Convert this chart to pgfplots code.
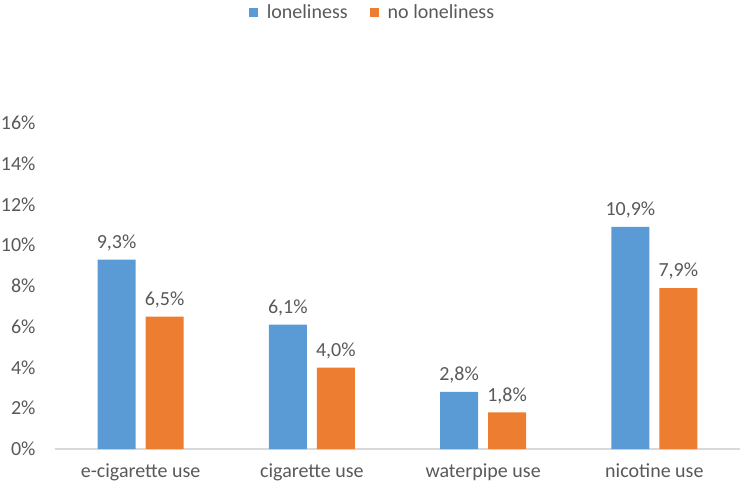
\documentclass[border=0pt]{standalone}
\usepackage{pgfplots}
\pgfplotsset{compat=1.18}
\usepackage{fontspec}
\setmainfont{Carlito}
\definecolor{cblue}{HTML}{5B9BD5}
\definecolor{corange}{HTML}{ED7D31}
\definecolor{ctext}{HTML}{595959}
\definecolor{caxis}{HTML}{D9D9D9}
\begin{document}
\begin{tikzpicture}
\useasboundingbox (0,0) rectangle (742pt,488pt);
\begin{axis}[
  at={(55pt,39pt)}, anchor=south west,
  scale only axis, width=685pt, height=326pt,
  ymin=0, ymax=16, xmin=-0.5, xmax=3.5,
  ybar=10pt, bar width=38pt,
  axis x line*=bottom, axis y line*=left,
  x axis line style={draw=caxis, line width=1.2pt, -},
  y axis line style={draw=none},
  major tick length=0pt,
  ytick={0,2,...,16},
  yticklabel={\pgfmathprintnumber{\tick}\%},
  xtick={0,1,2,3},
  xticklabels={e-cigarette use, cigarette use, waterpipe use, nicotine use},
  /pgf/number format/assume math mode=true,
  every tick label/.append style={font=\fontsize{20}{22}\selectfont, text=ctext},
  yticklabel style={xshift=-16pt},
  xticklabel style={yshift=-11pt},
  clip=false,
  nodes near coords={\pgfmathprintnumber[fixed,fixed zerofill,precision=1,use comma]{\pgfplotspointmeta}\%},
  every node near coord/.append style={font=\fontsize{20}{22}\selectfont, text=ctext, yshift=5pt},
  legend columns=2,
  legend style={at={(0.4635,1.340)}, anchor=center, draw=none, fill=none,
    font=\fontsize{20}{22}\selectfont, text=ctext,
    /tikz/every odd column/.append style={column sep=7pt},
    /tikz/every even column/.append style={column sep=20pt}},
  legend image code/.code={\fill (0pt,-4.5pt) rectangle (9pt,4.5pt);},
]
\addplot[fill=cblue, draw=none] coordinates {(0,9.3) (1,6.1) (2,2.8) (3,10.9)};
\addplot[fill=corange, draw=none] coordinates {(0,6.5) (1,4.0) (2,1.8) (3,7.9)};
\legend{loneliness, no loneliness}
\end{axis}
\end{tikzpicture}
\end{document}
